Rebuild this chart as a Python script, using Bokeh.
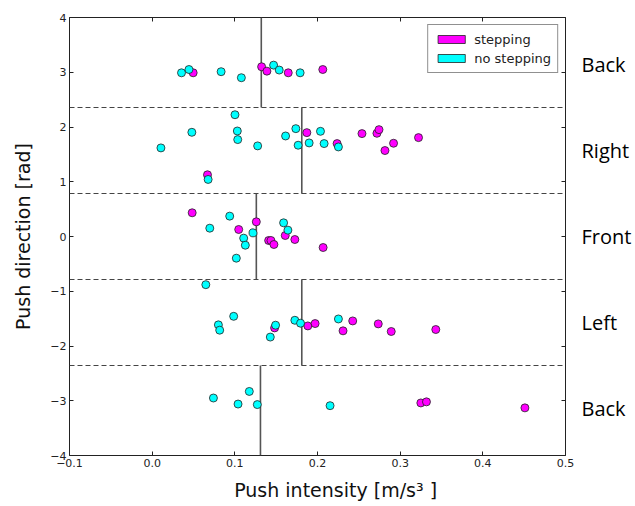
import math
from bokeh.plotting import figure
from bokeh.models import (ColumnDataSource, Span, LinearAxis,
                          FixedTicker, CustomJSTickFormatter, Legend, LegendItem)
from bokeh.embed import file_html
from bokeh.resources import INLINE

# ---------------- data ----------------
stepping_x = [0.0496, 0.1324, 0.1388, 0.1646, 0.2064,
              0.0669, 0.1871, 0.2237, 0.2538, 0.2719, 0.2744, 0.2816, 0.292, 0.3222,
              0.0484, 0.1047, 0.126, 0.1409, 0.1437, 0.1473, 0.161, 0.1726, 0.2068,
              0.1481, 0.1883, 0.1971, 0.2309, 0.2426, 0.2735, 0.2892, 0.3431,
              0.325, 0.3318, 0.4509]
stepping_y = [2.99, 3.10, 3.02, 2.99, 3.05,
              1.127, 1.897, 1.697, 1.879, 1.885, 1.952, 1.570, 1.703, 1.806,
              0.433, 0.128, 0.268, -0.073, -0.073, -0.146, 0.018, -0.055, -0.201,
              -1.669, -1.633, -1.59, -1.723, -1.542, -1.596, -1.735, -1.699,
              -3.04, -3.02, -3.13]

nostep_x = [0.0355, 0.0445, 0.0834, 0.1079, 0.1469, 0.1537, 0.179,
            0.1002, 0.0106, 0.048, 0.0677, 0.103, 0.1035, 0.1276, 0.1614, 0.1738, 0.1766,
            0.1899, 0.2036, 0.208, 0.2253,
            0.0697, 0.0938, 0.122, 0.1107, 0.1127, 0.1018, 0.159, 0.1642,
            0.0649, 0.0801, 0.0817, 0.0986, 0.1493, 0.1429, 0.1726, 0.1795, 0.2253,
            0.0741, 0.1039, 0.1175, 0.1272, 0.2152]
nostep_y = [2.99, 3.05, 3.01, 2.90, 3.13, 3.04, 2.99,
            2.224, 1.618, 1.903, 1.042, 1.927, 1.770, 1.655, 1.836, 1.970, 1.667,
            1.709, 1.921, 1.697, 1.636,
            0.152, 0.372, 0.067, -0.030, -0.159, -0.396, 0.25, 0.116,
            -0.88, -1.614, -1.711, -1.458, -1.62, -1.837, -1.53, -1.584, -1.506,
            -2.95, -3.06, -2.83, -3.07, -3.09]

directions = ["Back", "Right", "Front", "Left", "Back"]
direction_y = [math.pi, math.pi / 2, 0.0, -math.pi / 2, -math.pi]
band_top = [4, 3 * math.pi / 4, math.pi / 4, -math.pi / 4, -3 * math.pi / 4]
band_bottom = [3 * math.pi / 4, math.pi / 4, -math.pi / 4, -3 * math.pi / 4, -4]
median_x = [0.132, 0.181, 0.126, 0.181, 0.131]
dash_y = [3 * math.pi / 4, math.pi / 4, -math.pi / 4, -3 * math.pi / 4]

x_ticks = [-0.1, 0.0, 0.1, 0.2, 0.3, 0.4, 0.5]
y_ticks = [-4, -3, -2, -1, 0, 1, 2, 3, 4]

# ---------------- figure ----------------
W, H = 634, 505
ML, MR, MT, MB = 69, 67, 17, 50
p = figure(width=W, height=H, x_range=(-0.1, 0.5), y_range=(-4, 4),
           output_backend="svg", toolbar_location=None,
           min_border_left=ML, min_border_right=MR, min_border_top=MT, min_border_bottom=MB)
p.background_fill_color = "white"
p.border_fill_color = "white"
p.outline_line_color = "#222222"
p.outline_line_width = 1
p.grid.visible = False

TICK_FONT = "DejaVu Sans"
p.xaxis.ticker = FixedTicker(ticks=x_ticks)
p.yaxis.ticker = FixedTicker(ticks=y_ticks)
p.xaxis.formatter = CustomJSTickFormatter(code="return (tick < -1e-9 ? '\u2212' : '') + Math.abs(tick).toFixed(1);")
p.yaxis.formatter = CustomJSTickFormatter(code="return (tick < -1e-9 ? '\u2212' : '') + Math.abs(tick).toFixed(0);")
for ax in (p.xaxis[0], p.yaxis[0]):
    ax.axis_line_color = None
    ax.major_tick_in = 4
    ax.major_tick_out = 0
    ax.major_tick_line_color = "#222222"
    ax.minor_tick_line_color = None
    ax.major_label_text_font = TICK_FONT
    ax.major_label_text_font_size = "11px"
    ax.major_label_text_color = "#222222"
    ax.major_label_standoff = 3
    ax.axis_label_text_font = "DejaVu Sans"
    ax.axis_label_text_font_size = "19px"
    ax.axis_label_text_font_style = "normal"
    ax.axis_label_text_color = "#111111"

nb = "\u00a0"
p.xaxis[0].axis_label = nb * 6 + "Push intensity [m/s\u00b3 ]"
p.xaxis[0].axis_label_standoff = 9
p.yaxis[0].axis_label = "Push direction [rad]"
p.yaxis[0].axis_label_standoff = 13

# ticks on top (matplotlib style, no labels) -> minor ticks only
top_ax = LinearAxis(ticker=FixedTicker(ticks=[], minor_ticks=x_ticks), axis_line_color=None,
                    major_tick_in=0, major_tick_out=0,
                    minor_tick_in=4, minor_tick_out=0,
                    minor_tick_line_color="#222222",
                    major_label_standoff=0)
p.add_layout(top_ax, "above")

# right axis: inner ticks at integers (minor), direction names as labels
right_ax = LinearAxis(ticker=FixedTicker(ticks=direction_y, minor_ticks=y_ticks),
                      axis_line_color=None,
                      major_tick_in=0, major_tick_out=0,
                      minor_tick_in=4, minor_tick_out=0,
                      minor_tick_line_color="#222222",
                      major_label_overrides={v: n for v, n in zip(direction_y, directions)},
                      major_label_text_font="Open Sans",
                      major_label_text_font_size="20px",
                      major_label_text_color="black",
                      major_label_standoff=16)
p.add_layout(right_ax, "right")

# dashed separators
for yv in dash_y:
    p.add_layout(Span(location=yv, dimension="width", line_color="#444444",
                      line_dash="5 3", line_width=1.2))

# median lines per band
med_src = ColumnDataSource(dict(x=median_x, y0=band_top, y1=band_bottom))
p.segment(x0="x", y0="y0", x1="x", y1="y1", source=med_src,
          line_color="#555555", line_width=1.6)

# points
s_src = ColumnDataSource(dict(x=stepping_x, y=stepping_y))
n_src = ColumnDataSource(dict(x=nostep_x, y=nostep_y))
p.scatter("x", "y", source=s_src, size=8, fill_color="#ff00ff",
          line_color="#222222", line_width=0.8)
p.scatter("x", "y", source=n_src, size=8, fill_color="#00ffff",
          line_color="#222222", line_width=0.8)

# legend with rectangular patches
leg_s = p.rect(x=[0], y=[0], width=0, height=0, fill_color="#ff00ff",
               line_color="#222222", line_width=0.8, visible=False)
leg_n = p.rect(x=[0], y=[0], width=0, height=0, fill_color="#00ffff",
               line_color="#222222", line_width=0.8, visible=False)
legend = Legend(items=[LegendItem(label="stepping", renderers=[leg_s]),
                       LegendItem(label="no stepping", renderers=[leg_n])],
                location="top_right", margin=7, padding=6, spacing=3,
                glyph_width=34, glyph_height=10, label_height=16,
                label_standoff=6, label_text_font=TICK_FONT,
                label_text_font_size="13px", label_text_color="#222222",
                border_line_color="#222222", border_line_width=1,
                background_fill_alpha=1.0)
p.add_layout(legend)

open("out.html", "w").write(file_html(p, INLINE))
